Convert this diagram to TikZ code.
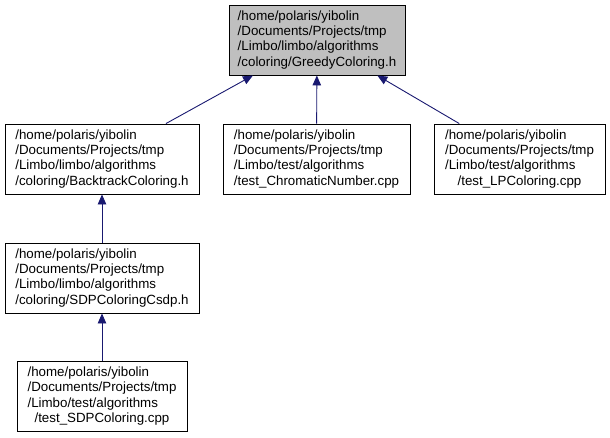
\documentclass[tikz,border=0pt]{standalone}
\usepackage{fontspec}
\setmainfont{Liberation Sans}
\usetikzlibrary{arrows.meta}
\definecolor{edgeblue}{RGB}{25,25,112}
\definecolor{focusgray}{RGB}{191,191,191}

% four-line file path: first lines flush left, last line centred
\newcommand{\pathlines}[4]{%
  \begin{tabular}{@{}l@{}}#1\\#2\\#3\\\multicolumn{1}{@{}c@{}}{#4}\end{tabular}}

\begin{document}
\begin{tikzpicture}[
    x=1pt, y=-1pt,
    every node/.style={font=\fontsize{13.33}{15.3}\selectfont},
    file/.style={draw=black, line width=0.9pt, fill=white, inner sep=0pt,
      minimum height=70pt},
    focus file/.style={file, fill=focusgray},
    dep/.style={draw=edgeblue, line width=0.9pt,
      {Triangle[length=10pt, width=8.5pt]}-},
  ]
  \useasboundingbox (0,0) rectangle (610,437);

  % --- Header that is documented ---
  \node[focus file, minimum width=176pt] (greedy) at (317, 40)
    {\pathlines{/home/polaris/yibolin}{/Documents/Projects/tmp}%
      {/Limbo/limbo/algorithms}{/coloring/GreedyColoring.h}};

  % --- Files that include it directly ---
  \node[file, minimum width=194pt] (backtrack) at (102, 159)
    {\pathlines{/home/polaris/yibolin}{/Documents/Projects/tmp}%
      {/Limbo/limbo/algorithms}{/coloring/BacktrackColoring.h}};
  \node[file, minimum width=187pt] (chromatic) at (316.5, 159)
    {\pathlines{/home/polaris/yibolin}{/Documents/Projects/tmp}%
      {/Limbo/test/algorithms}{/test\_ChromaticNumber.cpp}};
  \node[file, minimum width=171pt] (lpcoloring) at (519.5, 159)
    {\pathlines{/home/polaris/yibolin}{/Documents/Projects/tmp}%
      {/Limbo/test/algorithms}{/test\_LPColoring.cpp}};

  % --- Indirect includers ---
  \node[file, minimum width=194pt] (sdpcsdp) at (102, 278)
    {\pathlines{/home/polaris/yibolin}{/Documents/Projects/tmp}%
      {/Limbo/limbo/algorithms}{/coloring/SDPColoringCsdp.h}};
  \node[file, minimum width=170pt] (testsdp) at (102, 396.5)
    {\pathlines{/home/polaris/yibolin}{/Documents/Projects/tmp}%
      {/Limbo/test/algorithms}{/test\_SDPColoring.cpp}};

  % --- Include edges, arrow at the included file ---
  \draw[dep] (greedy) -- (backtrack);
  \draw[dep] (greedy) -- (chromatic);
  \draw[dep] (greedy) -- (lpcoloring);
  \draw[dep] (backtrack) -- (sdpcsdp);
  \draw[dep] (sdpcsdp) -- (testsdp);

\end{tikzpicture}
\end{document}
